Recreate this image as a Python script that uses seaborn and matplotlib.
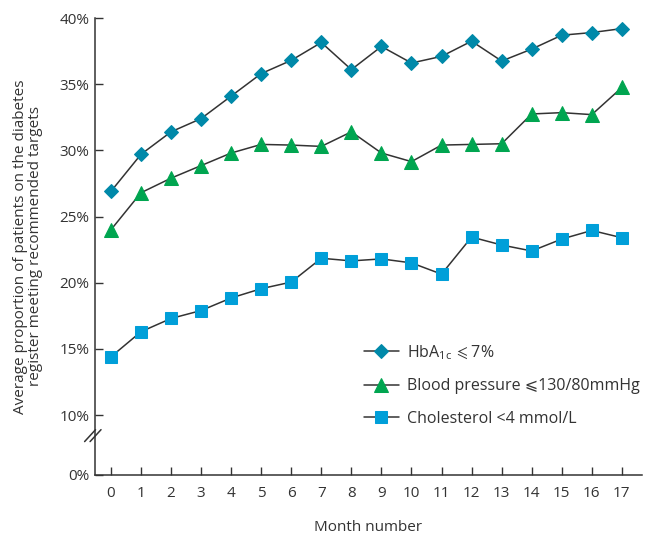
import numpy as np
import pandas as pd
import matplotlib
matplotlib.use("Agg")
import matplotlib.pyplot as plt
import matplotlib.transforms as mtransforms
import seaborn as sns

months = list(range(18))
hba1c = [26.9, 29.7, 31.4, 32.4, 34.1, 35.8, 36.8, 38.15, 36.1, 37.85,
         36.6, 37.1, 38.25, 36.75, 37.65, 38.7, 38.9, 39.2]
bp = [24.0, 26.8, 27.9, 28.85, 29.8, 30.45, 30.4, 30.3, 31.4, 29.8,
      29.15, 30.4, 30.45, 30.5, 32.75, 32.85, 32.7, 34.75]
chol = [14.4, 16.3, 17.3, 17.9, 18.85, 19.55, 20.05, 21.85, 21.65, 21.8,
        21.5, 20.65, 23.45, 22.85, 22.4, 23.3, 23.95, 23.4]
labels = [r"HbA$_{\mathrm{1c}}$$\,\leqslant$7%", "Blood pressure \u2a7d130/80mmHg", "Cholesterol <4 mmol/L"]
yticks_pct = [0, 10, 15, 20, 25, 30, 35, 40]

# 0% is drawn closer than the scale says (axis break between 0 and 10)
zero_pos = 10 - 60 / 13.26

sns.set_style("ticks")
plt.rcParams['font.family'] = ['Open Sans', 'DejaVu Sans']
plt.rcParams['mathtext.fontset'] = 'custom'
plt.rcParams['mathtext.rm'] = 'Open Sans'

fig = plt.figure(figsize=(6.47, 5.41), dpi=100)
ax = fig.add_axes([95 / 647, 1 - 475 / 541, (642 - 95) / 647, (475 - 18) / 541])

series = [
    (hba1c, labels[0], "D", "#0089a9", 6.8),
    (bp, labels[1], "^", "#00a550", 9.5),
    (chol, labels[2], "s", "#009fd9", 9.2),
]
for vals, lab, mk, col, ms in series:
    df = pd.DataFrame({"month": months, "value": vals})
    sns.lineplot(data=df, x="month", y="value", ax=ax, color="#333333", lw=1.1,
                 marker=mk, markersize=ms, markerfacecolor=col, markeredgecolor=col,
                 label=lab)

ax.set_xlim(-0.53, 17.67)
ax.set_ylim(zero_pos, 40)
ax.set_xticks(months)
ax.set_xticklabels([str(m) for m in months])
ax.set_yticks([zero_pos if t == 0 else t for t in yticks_pct])
ax.set_yticklabels([f"{t}%" for t in yticks_pct])
ax.tick_params(direction="in", length=6, width=1, color="#333333",
               labelsize=11, labelcolor="#333333", pad=8)
ax.tick_params(axis="y", pad=4)
sns.despine(ax=ax)
for s in ["left", "bottom"]:
    ax.spines[s].set_color("#333333")
    ax.spines[s].set_linewidth(1.1)

# break marks on y axis
trans = mtransforms.blended_transform_factory(ax.transAxes, ax.transData)
for dx in [-0.014, -0.004]:
    ax.plot([dx - 0.005, dx + 0.015], [8.0, 8.9], transform=trans,
            color="#333333", lw=1.1, clip_on=False)

ax.set_xlabel("Month number", fontsize=11, color="#333333")
ax.xaxis.set_label_coords(0.5, -0.098)
ax.set_ylabel("Average proportion of patients on the diabetes\nregister meeting recommended targets",
              fontsize=11, color="#333333", labelpad=12, linespacing=0.95)

leg = ax.legend(loc="upper left", bbox_to_anchor=(0.465, 0.32), frameon=False,
                fontsize=11.5, handlelength=2.2, labelspacing=1.05, handletextpad=0.5,
                labelcolor="#333333")

fig.savefig("out.png", dpi=100)
